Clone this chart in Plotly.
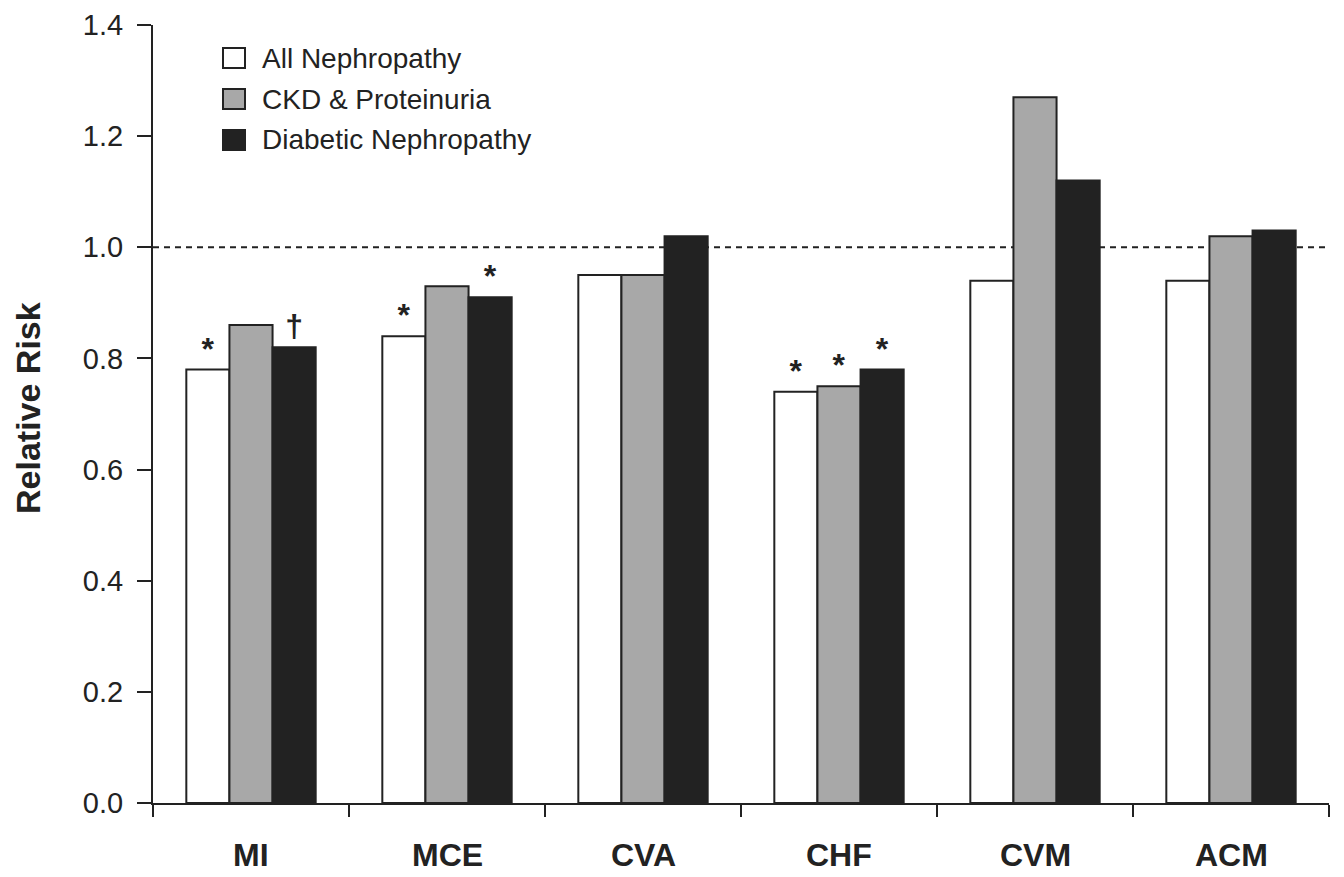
import plotly.graph_objects as go

categories = ["MI", "MCE", "CVA", "CHF", "CVM", "ACM"]
series_names = ["All Nephropathy", "CKD &amp; Proteinuria", "Diabetic Nephropathy"]
all_nephropathy = [0.78, 0.84, 0.95, 0.74, 0.94, 0.94]
ckd_proteinuria = [0.86, 0.93, 0.95, 0.75, 1.27, 1.02]
diabetic_nephropathy = [0.82, 0.91, 1.02, 0.78, 1.12, 1.03]
marks_all = ["*", "*", "", "*", "", ""]
marks_ckd = ["", "", "", "*", "", ""]
marks_diab = ["†", "*", "", "*", "", ""]
reference_line = 1.0
y_ticks = [0.0, 0.2, 0.4, 0.6, 0.8, 1.0, 1.2, 1.4]

fills = ["#ffffff", "#a8a8a8", "#222222"]
dark = "#222222"
FONT = "Liberation Sans, Arial, sans-serif"

x_idx = list(range(len(categories)))
series = [all_nephropathy, ckd_proteinuria, diabetic_nephropathy]
marks = [marks_all, marks_ckd, marks_diab]

fig = go.Figure()
for name, vals, mk, col in zip(series_names, series, marks, fills):
    fig.add_trace(go.Bar(
        x=x_idx, y=vals, name=name, text=mk, textposition="outside",
        textfont=dict(family=FONT, size=32, color=dark, weight="bold"),
        cliponaxis=False,
        marker=dict(color=col, line=dict(color=dark, width=2)),
        showlegend=False,
    ))

# page has an 8px body margin; screen coords -> figure coords
OFF = 8
W, H = 1336, 869
L, R, T, B = 145, 15, 17, 74
pw, ph = W - L - R, H - T - B

def px_x(p):
    return (p - OFF - L) / pw

def px_y(p):
    return (H - B - (p - OFF)) / ph

shapes = [dict(type="line", xref="paper", yref="y", x0=0, x1=1,
               y0=reference_line, y1=reference_line, layer="below",
               line=dict(color=dark, width=2, dash="6px,5px"))]
annotations = []
legend_rows = [58, 99, 140]
for name, col, yc in zip(series_names, fills, legend_rows):
    shapes.append(dict(type="rect", xref="paper", yref="paper",
                       x0=px_x(223), x1=px_x(245), y0=px_y(yc + 10), y1=px_y(yc - 10),
                       fillcolor=col, line=dict(color=dark, width=2)))
    annotations.append(dict(xref="paper", yref="paper", x=px_x(260), y=px_y(yc),
                            text=name, showarrow=False, xanchor="left", yanchor="middle",
                            font=dict(family=FONT, size=28, color=dark)))

for i, c in zip(x_idx, categories):
    annotations.append(dict(xref="x", yref="paper", x=i, y=px_y(855), text="<b>%s</b>" % c,
                            showarrow=False, xanchor="center", yanchor="middle",
                            font=dict(family=FONT, size=32, color=dark)))

annotations.append(dict(xref="paper", yref="paper", x=px_x(28), y=px_y(408),
                        text="<b>Relative Risk</b>", textangle=-90, showarrow=False,
                        xanchor="center", yanchor="middle",
                        font=dict(family=FONT, size=34, color=dark)))

fig.update_layout(
    width=W, height=H,
    margin=dict(l=L, r=R, t=T, b=B, autoexpand=False),
    paper_bgcolor="white", plot_bgcolor="white",
    barmode="group", bargap=0.34, bargroupgap=0,
    shapes=shapes, annotations=annotations,
    font=dict(family=FONT, color=dark),
    xaxis=dict(range=[-0.5, 5.5], tickvals=[v - 0.5 for v in range(len(categories) + 1)],
               ticktext=[""] * (len(categories) + 1), ticks="outside", ticklen=12,
               tickwidth=2, tickcolor=dark, showline=True, linewidth=2, linecolor=dark,
               showgrid=False, zeroline=False, fixedrange=True, automargin=False),
    yaxis=dict(range=[0, 1.4], tickvals=y_ticks, tickformat=".1f", ticks="outside",
               ticklen=14, tickwidth=2, tickcolor=dark, showline=True, linewidth=2,
               linecolor=dark, showgrid=False, zeroline=False, ticklabelstandoff=8,
               tickfont=dict(family=FONT, size=29, color=dark), fixedrange=True,
               automargin=False),
)

fig.write_html("out.html", config={"displayModeBar": False})
